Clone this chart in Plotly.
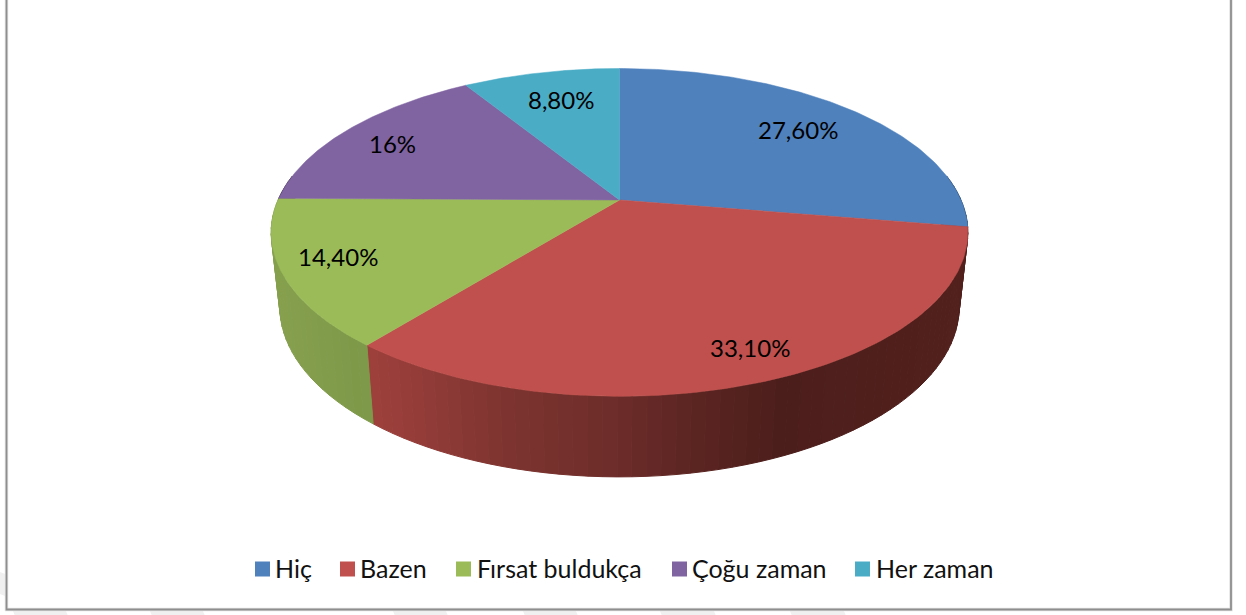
import numpy as np
import plotly.graph_objects as go

categories = ["Hiç", "Bazen", "Fırsat buldukça", "Çoğu zaman", "Her zaman"]
values = [27.6, 33.1, 14.4, 16.0, 8.8]
value_labels = ["27,60%", "33,10%", "14,40%", "16%", "8,80%"]
colors = ["#4F81BD", "#C0504D", "#9BBB59", "#8064A2", "#4BACC6"]

# layout constants (pixel-mapped axes)
W, H = 1246, 615
CX = 619.5
TOP = dict(cy=200, rx=341.5, ry=157.5, k=0.1976)
BOT = dict(cy=273, rx=333, ry=163.6, k=0.1976)
LABEL_POS = [(798, 129.5), (750, 347), (338, 256), (392, 143), (561, 99)]
LEGEND_X = [262.5, 347.5, 463.5, 679.5, 862.5]
LEGEND_TEXT_X = [273, 358, 475, 690, 874]
LEGEND_Y = 569
LEGEND_TEXT_Y = 568
FONT = "Lato, Carlito, Calibri, sans-serif"
FS = 24
FS_LEGEND = 25
WATERMARK_BANDS = [(15, 68), (152, 205), (395, 448), (525, 578), (662, 716), (792, 846)]


def project(theta, p):
    u, v = np.sin(theta), -np.cos(theta)
    d = 1 - p["k"] * v
    return CX + p["rx"] * u / d, p["cy"] + p["ry"] * v / d


def side_color(i, x):
    if i == 1:
        xs = [375, 500, 620, 700, 780, 970]
        r = np.interp(x, xs, [157, 126, 108, 90, 76, 82])
        g = np.interp(x, xs, [64, 52, 44, 36, 30, 32])
        b = np.interp(x, xs, [60, 48, 41, 33, 27, 29])
    elif i == 2:
        xs = [270, 375]
        r = np.interp(x, xs, [134, 124])
        g = np.interp(x, xs, [160, 152])
        b = np.interp(x, xs, [78, 72])
    else:
        base = colors[i].lstrip("#")
        r, g, b = [int(base[j:j + 2], 16) * 0.5 for j in (0, 2, 4)]
    return f"rgb({r:.0f},{g:.0f},{b:.0f})"


fig = go.Figure()
total = sum(values)
edges = np.concatenate([[0], np.cumsum(values)]) / total * 2 * np.pi

# sides: thin strips between upper and lower rim, front half only
for i in range(len(values)):
    a0, a1 = edges[i], edges[i + 1]
    lo, hi = max(a0, np.pi * 0.45), min(a1, np.pi * 1.55)
    if hi <= lo:
        continue
    n = max(1, int(np.degrees(hi - lo) / 2))
    th = np.linspace(lo, hi, n + 1)
    for t0, t1 in zip(th[:-1], th[1:]):
        xt0, yt0 = project(t0, TOP)
        xt1, yt1 = project(t1, TOP)
        xb0, yb0 = project(t0, BOT)
        xb1, yb1 = project(t1, BOT)
        c = side_color(i, (xt0 + xt1) / 2)
        fig.add_trace(go.Scatter(
            x=[xt0, xt1, xb1, xb0, xt0], y=[yt0, yt1, yb1, yb0, yt0],
            mode="lines", fill="toself", fillcolor=c,
            line=dict(color=c, width=1), hoverinfo="skip", showlegend=False))

# top faces
for i in range(len(values)):
    th = np.linspace(edges[i], edges[i + 1], 120)
    x, y = project(th, TOP)
    fig.add_trace(go.Scatter(
        x=np.concatenate([[CX], x, [CX]]), y=np.concatenate([[TOP["cy"]], y, [TOP["cy"]]]),
        mode="lines", fill="toself", fillcolor=colors[i],
        line=dict(color=colors[i], width=0.5), name=categories[i],
        hovertemplate="%{fullData.name}: " + value_labels[i] + "<extra></extra>", showlegend=False))

# data labels
for (lx, ly), t in zip(LABEL_POS, value_labels):
    fig.add_annotation(x=lx, y=ly, text=t, showarrow=False, xanchor="center", yanchor="middle",
                       font=dict(family=FONT, size=FS, color="#000000"))

# legend row
for i, name in enumerate(categories):
    fig.add_trace(go.Scatter(
        x=[LEGEND_X[i]], y=[LEGEND_Y], mode="markers", name=name,
        marker=dict(symbol="square", size=15, color=colors[i]),
        hoverinfo="skip", showlegend=False))
    fig.add_annotation(x=LEGEND_TEXT_X[i], y=LEGEND_TEXT_Y, text=name, showarrow=False,
                       xanchor="left", yanchor="middle",
                       font=dict(family=FONT, size=FS_LEGEND, color="#111111"))

# faint page watermark below the frame
for x0, x1 in WATERMARK_BANDS:
    fig.add_shape(type="path", path=f"M {x0} 616 L {x0 - 2} 611 L {x1 - 2} 611 L {x1} 616 Z",
                  fillcolor="#F0F0F0", line=dict(width=0), layer="below")
fig.add_shape(type="path", path="M 0 572 L 5 574 L 5 596 L 0 594 Z",
              fillcolor="#F0F0F0", line=dict(width=0), layer="below")

# frame
frame = "M 6.5 -2 L 6.5 609.5 L 1231 609.5 L 1231 -2"
fig.add_shape(type="path", path=frame, line=dict(color="#E2E2E2", width=3.5), layer="below")
fig.add_shape(type="path", path=frame, line=dict(color="#8E8E8E", width=1.8), layer="below")

fig.update_layout(
    width=W, height=H, margin=dict(l=0, r=0, t=0, b=0),
    paper_bgcolor="#FFFFFF", plot_bgcolor="#FFFFFF", showlegend=False,
    xaxis=dict(range=[0, W], visible=False, fixedrange=True),
    yaxis=dict(range=[H, 0], visible=False, fixedrange=True),
)
fig.write_html("out.html", post_script="document.body.style.margin='0';document.body.style.overflow='hidden';",
               config=dict(displayModeBar=False))
